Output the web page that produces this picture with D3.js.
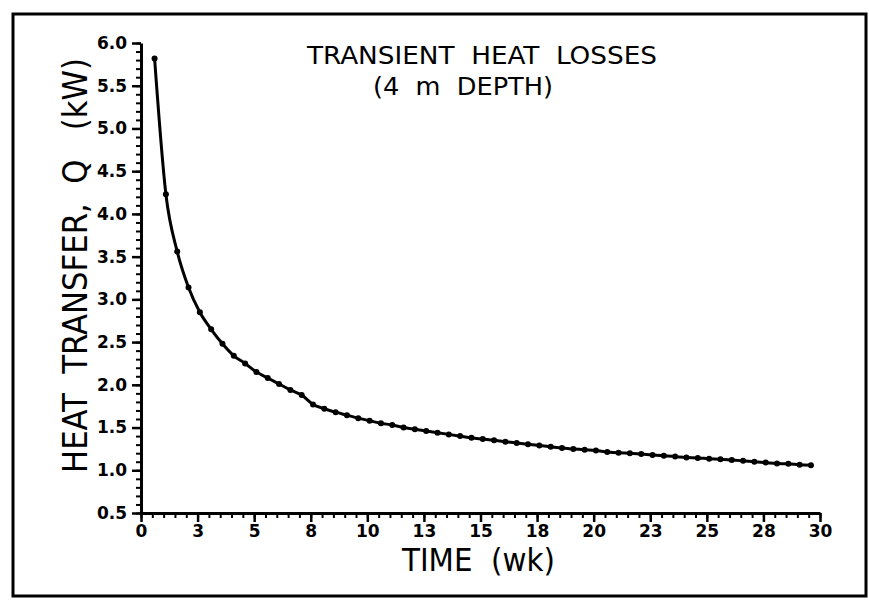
<!DOCTYPE html>
<html>
<head>
<meta charset="utf-8">
<script src="https://cdn.jsdelivr.net/npm/d3@7"></script>
<style>
  body { margin:0; background:#fff; }
  .axis path, .axis line { stroke:#000; }
  .axis text { font-family:"DejaVu Sans", sans-serif; font-weight:bold; fill:#000; }
  .lbl { font-family:"DejaVu Sans Condensed","DejaVu Sans",sans-serif; fill:#000; white-space:pre; }
</style>
</head>
<body>
<div id="canvas"></div>
<script>
// data
var weeks = [0.6,1.1,1.6,2.1,2.6,3.1,3.6,4.1,4.6,5.1,5.6,6.1,6.6,7.1,7.6,8.1,8.6,9.1,9.6,10.1,
  10.6,11.1,11.6,12.1,12.6,13.1,13.6,14.1,14.6,15.1,15.6,16.1,16.6,17.1,17.6,18.1,18.6,19.1,19.6,20.1,
  20.6,21.1,21.6,22.1,22.6,23.1,23.6,24.1,24.6,25.1,25.6,26.1,26.6,27.1,27.6,28.1,28.6,29.1,29.6];
var heatQ = [5.82,4.23,3.56,3.14,2.85,2.65,2.48,2.34,2.25,2.15,2.08,2.01,1.94,1.88,1.77,1.72,1.68,1.645,1.61,1.58,
  1.55,1.53,1.50,1.48,1.46,1.44,1.42,1.40,1.38,1.365,1.35,1.335,1.32,1.305,1.29,1.275,1.26,1.25,1.24,1.23,
  1.215,1.205,1.20,1.19,1.18,1.17,1.16,1.15,1.145,1.135,1.13,1.12,1.11,1.10,1.09,1.08,1.075,1.065,1.06];

var xTickValues = [0,2.5,5,7.5,10,12.5,15,17.5,20,22.5,25,27.5,30];
var xTickLabels = ['0','3','5','8','10','13','15','18','20','23','25','28','30'];
var yTickValues = [0.5,1.0,1.5,2.0,2.5,3.0,3.5,4.0,4.5,5.0,5.5,6.0];
var yTickLabels = ['0.5','1.0','1.5','2.0','2.5','3.0','3.5','4.0','4.5','5.0','5.5','6.0'];

var W = 869, H = 602;
var svg = d3.select('#canvas').append('svg').attr('width',W).attr('height',H);

// frame
svg.append('rect').attr('x',13).attr('y',14).attr('width',853).attr('height',582)
  .attr('fill','none').attr('stroke','#000').attr('stroke-width',3);

var x = d3.scaleLinear().domain([0,30]).range([141,820]);
var y = d3.scaleLinear().domain([0.5,6]).range([513,43]);

// minor ticks
svg.append('g').attr('class','axis').attr('transform','translate(0,513)')
  .call(d3.axisBottom(x).tickValues(d3.range(0,30.01,0.5)).tickSize(5).tickFormat(''))
  .call(function(g){ g.select('.domain').remove(); g.selectAll('line').attr('stroke-width',2); });
svg.append('g').attr('class','axis').attr('transform','translate(141,0)')
  .call(d3.axisLeft(y).tickValues(d3.range(0.5,6.001,0.1)).tickSize(5).tickFormat(''))
  .call(function(g){ g.select('.domain').remove(); g.selectAll('line').attr('stroke-width',2); });

// major ticks + labels
var xAxis = svg.append('g').attr('class','axis').attr('transform','translate(0,513)')
  .call(d3.axisBottom(x).tickValues(xTickValues).tickSizeInner(9).tickSizeOuter(0).tickPadding(3)
    .tickFormat(function(d,i){ return xTickLabels[i]; }));
xAxis.select('.domain').attr('stroke-width',3);
xAxis.selectAll('line').attr('stroke-width',2.5);
xAxis.selectAll('text').style('font-size','17px');

var yAxis = svg.append('g').attr('class','axis').attr('transform','translate(141,0)')
  .call(d3.axisLeft(y).tickValues(yTickValues).tickSizeInner(9).tickSizeOuter(0).tickPadding(5)
    .tickFormat(function(d,i){ return yTickLabels[i]; }));
yAxis.select('.domain').attr('stroke-width',3);
yAxis.selectAll('line').attr('stroke-width',2.5);
yAxis.selectAll('text').style('font-size','17px');

// curve
var pts = weeks.map(function(w,i){ return [w, heatQ[i]]; });
svg.append('path').datum(pts)
  .attr('fill','none').attr('stroke','#000').attr('stroke-width',3)
  .attr('d', d3.line().x(function(d){return x(d[0]);}).y(function(d){return y(d[1]);}).curve(d3.curveMonotoneX));
svg.selectAll('.dot').data(pts).enter().append('circle')
  .attr('class','dot')
  .attr('cx',function(d){return x(d[0]);}).attr('cy',function(d){return y(d[1]);})
  .attr('r',3).attr('fill','#000');

// titles
svg.append('text').attr('class','lbl').attr('x',307).attr('y',64)
  .attr('textLength',350).attr('lengthAdjust','spacingAndGlyphs')
  .style('font-size','25px').text('TRANSIENT  HEAT  LOSSES');
svg.append('text').attr('class','lbl').attr('x',373).attr('y',95)
  .attr('textLength',180).attr('lengthAdjust','spacingAndGlyphs')
  .style('font-size','25px').text('(4  m  DEPTH)');

svg.append('text').attr('class','lbl').attr('x',402).attr('y',571)
  .attr('textLength',153).attr('lengthAdjust','spacingAndGlyphs')
  .style('font-size','32px').text('TIME  (wk)');

svg.append('text').attr('class','lbl')
  .attr('transform','translate(87,473) rotate(-90)')
  .attr('textLength',415).attr('lengthAdjust','spacingAndGlyphs')
  .style('font-size','34px').text('HEAT  TRANSFER,  Q   (kW)');
</script>
</body>
</html>
